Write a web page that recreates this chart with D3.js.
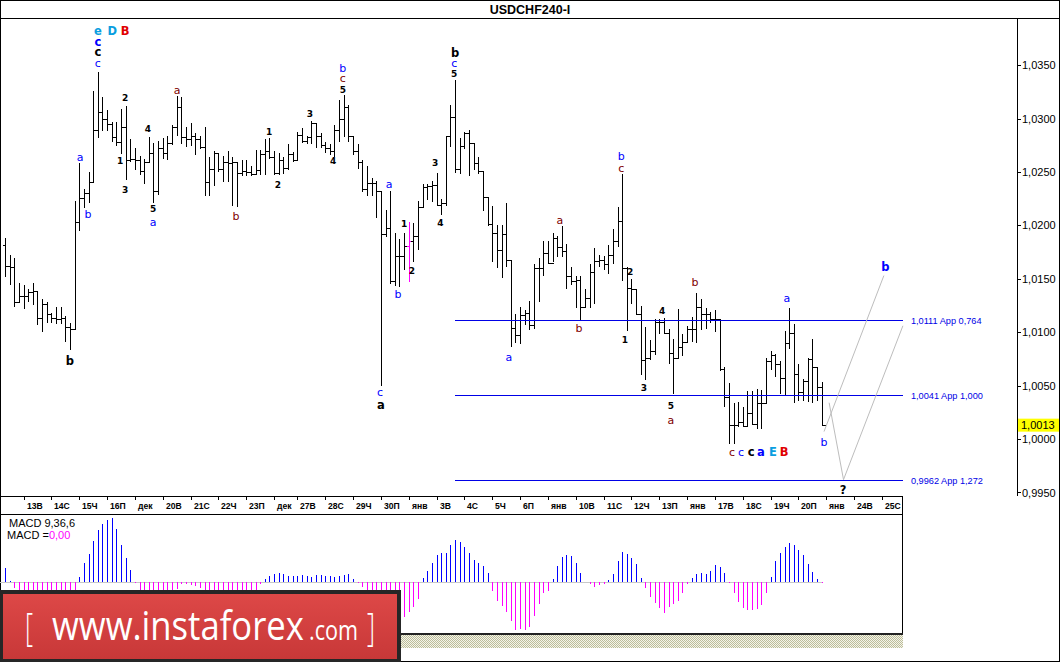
<!DOCTYPE html>
<html><head><meta charset="utf-8">
<script src="https://cdn.jsdelivr.net/npm/d3@7/dist/d3.min.js"></script>
<style>body{margin:0;background:#fff}svg{display:block}</style>
</head><body>
<svg id="c" width="1060" height="662" xmlns="http://www.w3.org/2000/svg"></svg>
<script>
// ---------- DATA ----------
const title = "USDCHF240-I";
const openP = [1.0182,1.0162,1.0161,1.0128,1.0134,1.0134,1.0138,1.0139,1.0113,1.0126,
1.0117,1.0113,1.0112,1.0113,1.0105,1.0103,1.0203,1.0226,1.0230,1.0241,
1.0289,1.0306,1.0300,1.0295,1.0283,1.0278,1.0292,1.0261,1.0262,1.0261,
1.0251,1.0259,1.0268,1.0232,1.0272,1.0268,1.0277,1.0292,1.0311,1.0283,
1.0281,1.0284,1.0281,1.0273,1.0241,1.0253,1.0268,1.0253,1.0259,1.0258,
1.0259,1.0249,1.0251,1.0250,1.0248,1.0252,1.0267,1.0270,1.0264,1.0249,
1.0261,1.0254,1.0267,1.0261,1.0285,1.0279,1.0283,1.0296,1.0284,1.0275,
1.0272,1.0270,1.0289,1.0300,1.0311,1.0284,1.0270,1.0259,1.0234,1.0240,
1.0240,1.0232,1.0192,1.0198,1.0148,1.0171,1.0171,1.0181,1.0185,1.0190,
1.0217,1.0236,1.0237,1.0238,1.0219,1.0221,1.0284,1.0301,1.0253,1.0274,
1.0286,1.0277,1.0258,1.0251,1.0227,1.0201,1.0193,1.0177,1.0192,1.0168,
1.0104,1.0097,1.0116,1.0118,1.0107,1.0160,1.0160,1.0174,1.0165,1.0188,
1.0180,1.0176,1.0153,1.0148,1.0149,1.0124,1.0132,1.0156,1.0167,1.0168,
1.0164,1.0172,1.0185,1.0204,1.0160,1.0141,1.0140,1.0117,1.0074,1.0076,
1.0082,1.0110,1.0110,1.0099,1.0081,1.0076,1.0086,1.0091,1.0103,1.0103,
1.0124,1.0117,1.0117,1.0112,1.0112,1.0066,1.0039,1.0013,1.0013,1.0016,
1.0012,1.0024,1.0014,1.0034,1.0034,1.0073,1.0079,1.0070,1.0057,1.0090,
1.0099,1.0061,1.0044,1.0054,1.0075,1.0067,1.0049];
const highP = [1.0188,1.0172,1.0169,1.0146,1.0144,1.0140,1.0146,1.0139,1.0131,1.0128,
1.0118,1.0124,1.0124,1.0115,1.0109,1.0223,1.0258,1.0234,1.0250,1.0326,
1.0344,1.0320,1.0308,1.0297,1.0297,1.0309,1.0312,1.0281,1.0272,1.0265,
1.0262,1.0283,1.0277,1.0279,1.0282,1.0284,1.0294,1.0321,1.0320,1.0292,
1.0296,1.0286,1.0284,1.0292,1.0264,1.0270,1.0268,1.0265,1.0270,1.0264,
1.0259,1.0261,1.0261,1.0256,1.0271,1.0271,1.0281,1.0282,1.0270,1.0268,
1.0264,1.0276,1.0269,1.0287,1.0291,1.0284,1.0298,1.0296,1.0286,1.0278,
1.0276,1.0294,1.0317,1.0322,1.0313,1.0284,1.0276,1.0261,1.0256,1.0244,
1.0242,1.0232,1.0214,1.0232,1.0193,1.0187,1.0193,1.0203,1.0202,1.0223,
1.0239,1.0239,1.0242,1.0249,1.0225,1.0284,1.0313,1.0336,1.0282,1.0287,
1.0289,1.0277,1.0264,1.0251,1.0227,1.0218,1.0200,1.0200,1.0221,1.0168,
1.0117,1.0124,1.0121,1.0129,1.0164,1.0169,1.0185,1.0185,1.0193,1.0190,
1.0199,1.0183,1.0161,1.0153,1.0153,1.0140,1.0164,1.0179,1.0172,1.0171,
1.0182,1.0197,1.0217,1.0248,1.0161,1.0150,1.0140,1.0125,1.0105,1.0093,
1.0112,1.0112,1.0113,1.0103,1.0094,1.0122,1.0098,1.0106,1.0114,1.0137,
1.0131,1.0123,1.0119,1.0121,1.0112,1.0067,1.0052,1.0034,1.0035,1.0030,
1.0045,1.0045,1.0047,1.0046,1.0076,1.0082,1.0080,1.0073,1.0101,1.0123,
1.0108,1.0070,1.0056,1.0076,1.0094,1.0067,1.0053];
const lowP = [1.0153,1.0145,1.0125,1.0128,1.0123,1.0129,1.0126,1.0108,1.0101,1.0110,
1.0110,1.0109,1.0109,1.0092,1.0084,1.0103,1.0196,1.0217,1.0222,1.0241,
1.0283,1.0289,1.0289,1.0279,1.0275,1.0268,1.0243,1.0260,1.0253,1.0248,
1.0240,1.0259,1.0222,1.0229,1.0263,1.0262,1.0276,1.0285,1.0277,1.0274,
1.0275,1.0267,1.0272,1.0228,1.0228,1.0238,1.0251,1.0242,1.0242,1.0219,
1.0218,1.0247,1.0247,1.0247,1.0248,1.0248,1.0248,1.0263,1.0248,1.0248,
1.0249,1.0253,1.0260,1.0261,1.0278,1.0277,1.0277,1.0273,1.0273,1.0269,
1.0267,1.0265,1.0279,1.0284,1.0279,1.0267,1.0254,1.0232,1.0228,1.0228,
1.0208,1.0051,1.0190,1.0146,1.0144,1.0143,1.0159,1.0148,1.0167,1.0178,
1.0217,1.0225,1.0223,1.0219,1.0211,1.0219,1.0274,1.0250,1.0249,1.0272,
1.0247,1.0253,1.0249,1.0214,1.0200,1.0167,1.0161,1.0152,1.0162,1.0087,
1.0091,1.0090,1.0108,1.0103,1.0104,1.0129,1.0154,1.0165,1.0167,1.0171,
1.0171,1.0141,1.0145,1.0124,1.0111,1.0124,1.0124,1.0127,1.0162,1.0159,
1.0155,1.0165,1.0181,1.0149,1.0102,1.0127,1.0117,1.0061,1.0056,1.0075,
1.0080,1.0099,1.0099,1.0071,1.0043,1.0076,1.0079,1.0091,1.0092,1.0091,
1.0103,1.0104,1.0110,1.0101,1.0065,1.0031,0.9996,0.9996,1.0012,1.0012,
1.0012,1.0014,1.0010,1.0010,1.0034,1.0066,1.0059,1.0043,1.0042,1.0085,
1.0035,1.0037,1.0037,1.0036,1.0035,1.0037,1.0013];
const closeP = [1.0162,1.0161,1.0128,1.0134,1.0134,1.0138,1.0139,1.0113,1.0126,1.0117,
1.0113,1.0112,1.0113,1.0105,1.0103,1.0203,1.0226,1.0230,1.0241,1.0289,
1.0306,1.0300,1.0295,1.0283,1.0278,1.0292,1.0261,1.0262,1.0261,1.0251,
1.0259,1.0268,1.0232,1.0272,1.0268,1.0277,1.0292,1.0311,1.0283,1.0281,
1.0284,1.0281,1.0273,1.0241,1.0253,1.0268,1.0253,1.0259,1.0258,1.0259,
1.0249,1.0251,1.0250,1.0248,1.0252,1.0267,1.0270,1.0264,1.0249,1.0261,
1.0254,1.0267,1.0261,1.0285,1.0279,1.0283,1.0296,1.0284,1.0275,1.0272,
1.0270,1.0289,1.0300,1.0311,1.0284,1.0270,1.0259,1.0234,1.0240,1.0240,
1.0232,1.0192,1.0198,1.0148,1.0171,1.0171,1.0181,1.0185,1.0190,1.0217,
1.0236,1.0237,1.0238,1.0219,1.0221,1.0284,1.0301,1.0253,1.0274,1.0286,
1.0277,1.0258,1.0251,1.0227,1.0201,1.0193,1.0177,1.0192,1.0168,1.0104,
1.0097,1.0116,1.0118,1.0107,1.0160,1.0160,1.0174,1.0165,1.0188,1.0180,
1.0176,1.0153,1.0148,1.0149,1.0124,1.0132,1.0156,1.0167,1.0168,1.0164,
1.0172,1.0185,1.0204,1.0160,1.0141,1.0140,1.0117,1.0074,1.0076,1.0082,
1.0110,1.0110,1.0099,1.0081,1.0076,1.0086,1.0091,1.0103,1.0103,1.0124,
1.0117,1.0117,1.0112,1.0112,1.0066,1.0039,1.0013,1.0013,1.0016,1.0012,
1.0024,1.0014,1.0034,1.0034,1.0073,1.0079,1.0070,1.0057,1.0090,1.0099,
1.0061,1.0044,1.0054,1.0075,1.0067,1.0049,1.0013];
const highlightBar = 87;
const macdHist = [0.00029,0.00003,-0.00012,-0.00018,-0.00024,-0.00028,-0.00030,-0.00034,-0.00036,-0.00038,
-0.00040,-0.00042,-0.00044,-0.00046,-0.00048,-0.00024,0.00011,0.00038,0.00056,0.00082,
0.00104,0.00116,0.00124,0.00128,0.00106,0.00075,0.00048,0.00025,-0.00001,-0.00024,
-0.00028,-0.00030,-0.00030,-0.00028,-0.00026,-0.00024,-0.00020,-0.00013,-0.00004,-0.00003,
-0.00006,-0.00008,-0.00011,-0.00020,-0.00024,-0.00026,-0.00026,-0.00026,-0.00026,-0.00028,
-0.00028,-0.00026,-0.00024,-0.00022,-0.00019,-0.00003,0.00006,0.00013,0.00016,0.00018,
0.00016,0.00013,0.00013,0.00013,0.00014,0.00013,0.00011,0.00014,0.00014,0.00013,
0.00013,0.00011,0.00013,0.00014,0.00016,0.00006,-0.00001,-0.00009,-0.00020,-0.00028,
-0.00036,-0.00056,-0.00066,-0.00080,-0.00082,-0.00078,-0.00070,-0.00060,-0.00050,-0.00034,
0.00009,0.00023,0.00039,0.00055,0.00058,0.00059,0.00075,0.00085,0.00080,0.00070,
0.00059,0.00045,0.00038,0.00033,0.00018,-0.00018,-0.00037,-0.00047,-0.00060,-0.00077,
-0.00095,-0.00094,-0.00096,-0.00089,-0.00067,-0.00044,-0.00021,-0.00018,0.00006,0.00032,
0.00050,0.00054,0.00052,0.00039,0.00019,0.00001,-0.00004,-0.00009,-0.00006,-0.00003,
0.00004,0.00017,0.00042,0.00061,0.00057,0.00048,0.00036,0.00009,-0.00012,-0.00030,
-0.00041,-0.00052,-0.00061,-0.00049,-0.00044,-0.00037,-0.00021,-0.00003,0.00009,0.00016,
0.00018,0.00016,0.00023,0.00034,0.00030,0.00019,-0.00001,-0.00021,-0.00039,-0.00051,
-0.00056,-0.00056,-0.00054,-0.00046,-0.00021,0.00011,0.00042,0.00058,0.00071,0.00079,
0.00075,0.00065,0.00054,0.00037,0.00021,0.00007,-0.00001];
const dayTickBars = [4,10,16,22,28,34,40,46,52,58,63,69,75,81,87,93,99,105,111,117,123,129,135,141,147,153,159,165,171,177,183,189];
const dayTickLabels = ["13В","14С","15Ч","16П","дек","20В","21С","22Ч","23П","дек","27В","28С","29Ч","30П","янв","3В","4С","5Ч","6П","янв","10В","11С","12Ч","13П","янв","17В","18С","19Ч","20П","янв","24В","25С"];
const priceTicks = [0.9950,1.0000,1.0050,1.0100,1.0150,1.0200,1.0250,1.0300,1.0350];
const levelPrices = [1.0111,1.0041,0.9962];
const levelLabels = ["1,0111 App 0,764","1,0041 App 1,000","0,9962 App 1,272"];
const levelSpan = [97,193.5];
const lastPrice = 1.0013;
const macdTitle = "MACD 9,36,6";
const macdValueText = "0,00";
// wave labels: bar index, price, text, colour key, style (l=letter, d=digit, b=bold)
const waveLabels = [
 [20.0,1.0382,"e","cy","b"],[23.1,1.0382,"D","cy","b"],[25.9,1.0382,"B","rd","b"],
 [20.0,1.0372,"c","bl","b"],[20.0,1.0362,"c","k","b"],[20.0,1.0352,"c","bl","l"],
 [16.2,1.0264,"a","bl","l"],[17.9,1.0211,"b","bl","l"],
 [25.9,1.0320,"2","k","d"],[24.8,1.0261,"1","k","d"],[25.9,1.0234,"3","k","d"],
 [30.8,1.0291,"4","k","d"],[31.9,1.0216,"5","k","d"],[31.9,1.0203,"a","bl","l"],
 [37.1,1.0327,"a","mr","l"],[49.8,1.0209,"b","mr","l"],
 [56.9,1.0288,"1","k","d"],[58.8,1.0239,"2","k","d"],[65.7,1.0305,"3","k","d"],
 [70.7,1.0261,"4","k","d"],[72.8,1.0328,"5","k","d"],[72.8,1.0338,"c","mr","l"],[72.8,1.0347,"b","bl","l"],
 [14.0,1.0073,"b","k","b"],
 [82.8,1.0239,"a","bl","l"],[84.7,1.0136,"b","bl","l"],[86.0,1.0202,"1","k","d"],[87.7,1.0158,"2","k","d"],
 [80.8,1.0044,"c","bl","l"],[81.0,1.0032,"a","k","b"],
 [97.0,1.0361,"b","k","b"],[96.8,1.0352,"c","bl","l"],[96.8,1.0343,"5","k","d"],
 [92.7,1.0259,"3","k","d"],[93.8,1.0203,"4","k","d"],
 [108.6,1.0077,"a","bl","l"],[119.6,1.0205,"a","mr","l"],[123.7,1.0104,"b","mr","l"],
 [132.8,1.0265,"b","bl","l"],[132.8,1.0254,"c","mr","l"],
 [134.7,1.0157,"2","k","d"],[133.6,1.0094,"1","k","d"],[141.6,1.0121,"4","k","d"],
 [137.7,1.0049,"3","k","d"],[143.5,1.0032,"5","k","d"],[143.5,1.0018,"a","mr","l"],
 [148.7,1.0147,"b","mr","l"],[168.5,1.0132,"a","bl","l"],
 [156.7,0.9988,"c","mr","l"],[158.6,0.9988,"c","bl","l"],[160.8,0.9988,"c","k","b"],
 [162.9,0.9988,"a","bl","b"],[165.5,0.9988,"E","cy","b"],[167.9,0.9988,"B","rd","b"],
 [176.5,0.9997,"b","bl","l"],[189.7,1.0161,"b","bl","b"],[180.6,0.9952,"?","k","b"]
];
const projectionA = [[176.5,1.0007],[189.4,1.0153]];
const projectionB = [[177.6,1.0034],[180.7,0.9962],[193.5,1.0106]];

// ---------- LAYOUT ----------
const W = 1060, H = 662;
const svg = d3.select("#c");
const colors = {bl:"#0000ff", mr:"#800000", k:"#000000", cy:"#0a9ee0", rd:"#e00000"};
const plot = {left:1, right:1017, top:18, bottom:496};
const x = d3.scaleLinear().domain([0,176]).range([5,821.7]);
const y = d3.scaleLinear().domain([0.99467,1.03941]).range([plot.bottom, plot.top]);
const my = d3.scaleLinear().domain([-0.00104,0.00136]).range([634,514]);
const cx = v => Math.round(x(v)) + 0.5;
const cy = v => Math.round(y(v)) + 0.5;

svg.append("rect").attr("width",W).attr("height",H).attr("fill","#fff");

// patterns / gradients / clip
const defs = svg.append("defs");
const pat = defs.append("pattern").attr("id","hatch").attr("width",2).attr("height",2).attr("patternUnits","userSpaceOnUse");
pat.append("rect").attr("width",2).attr("height",2).attr("fill","#f4f4ea");
pat.append("rect").attr("width",1).attr("height",1).attr("fill","#bdbd9a");
pat.append("rect").attr("x",1).attr("y",1).attr("width",1).attr("height",1).attr("fill","#bdbd9a");
const grad = defs.append("linearGradient").attr("id","logoG").attr("x1",0).attr("y1",0).attr("x2",0).attr("y2",1);
grad.append("stop").attr("offset","0").attr("stop-color","#dd4847");
grad.append("stop").attr("offset","1").attr("stop-color","#c83838");
defs.append("clipPath").attr("id","pclip").append("rect")
  .attr("x",plot.left).attr("y",plot.top).attr("width",plot.right-plot.left).attr("height",plot.bottom-plot.top);

// ---------- PRICE BARS ----------
const g = svg.append("g").attr("clip-path","url(#pclip)").attr("shape-rendering","crispEdges");
const idx = d3.range(closeP.length);
const bars = g.selectAll("g.bar").data(idx).join("g").attr("class","bar")
  .attr("stroke", i => i === highlightBar ? "#ff00ff" : "#000").attr("stroke-width",1);
bars.append("line").attr("x1",i=>cx(i)).attr("x2",i=>cx(i)).attr("y1",i=>cy(highP[i])-0.5).attr("y2",i=>cy(lowP[i])+0.5);
bars.append("line").attr("x1",i=>cx(i)-3).attr("x2",i=>cx(i)).attr("y1",i=>cy(openP[i])).attr("y2",i=>cy(openP[i]));
bars.append("line").attr("x1",i=>cx(i)).attr("x2",i=>cx(i)+3).attr("y1",i=>cy(closeP[i])).attr("y2",i=>cy(closeP[i]));

// ---------- LEVELS ----------
const lv = svg.append("g").attr("shape-rendering","crispEdges");
levelPrices.forEach((p,k)=>{
  lv.append("line").attr("x1",x(levelSpan[0])).attr("x2",x(levelSpan[1])).attr("y1",cy(p)).attr("y2",cy(p))
    .attr("stroke","#0000e6").attr("stroke-width",1);
  svg.append("text").attr("x",x(levelSpan[1])+8).attr("y",cy(p)+3.5).text(levelLabels[k])
    .attr("font-family","Liberation Sans, Arial, sans-serif").attr("font-size",9.2).attr("fill","#0000e6");
});

// ---------- PROJECTIONS ----------
const ln = d3.line().x(d=>x(d[0])).y(d=>y(d[1]));
[projectionA, projectionB].forEach(pts=>{
  svg.append("path").attr("d",ln(pts)).attr("fill","none").attr("stroke","#bdbdbd").attr("stroke-width",1);
});

// ---------- WAVE LABELS ----------
const styles = {
  l:{size:11,weight:"normal"},
  d:{size:9,weight:"bold"},
  b:{size:11.5,weight:"bold"}
};
svg.append("text").attr("font-family","DejaVu Sans, Verdana, sans-serif").attr("text-anchor","middle")
  .selectAll("tspan").data(waveLabels).join("tspan")
  .attr("x",d=>x(d[0])).attr("y",d=>y(d[1])+4)
  .attr("font-size",d=>styles[d[4]].size)
  .attr("font-weight",d=>styles[d[4]].weight)
  .attr("fill",d=>colors[d[3]]).text(d=>d[2]);

// ---------- FRAMES ----------
const fr = svg.append("g").attr("shape-rendering","crispEdges").attr("stroke","#000").attr("fill","none");
fr.append("rect").attr("x",0.5).attr("y",0.5).attr("width",W-1).attr("height",H-1);
fr.append("line").attr("x1",0).attr("x2",W).attr("y1",18.5).attr("y2",18.5);
fr.append("line").attr("x1",1017.5).attr("x2",1017.5).attr("y1",18).attr("y2",496);
fr.append("line").attr("x1",0).attr("x2",903).attr("y1",496.5).attr("y2",496.5);
fr.append("line").attr("x1",0).attr("x2",903).attr("y1",514.5).attr("y2",514.5);
fr.append("line").attr("x1",902.5).attr("x2",902.5).attr("y1",496).attr("y2",636);

svg.append("text").attr("x",530).attr("y",14).attr("text-anchor","middle")
  .attr("font-family","Liberation Sans, Arial, sans-serif").attr("font-weight","bold").attr("font-size",12.5)
  .text(title);

// ---------- PRICE AXIS ----------
const fmt = v => d3.format(".4f")(v).replace(".",",");
const ay = svg.append("g").attr("transform","translate(1017,0)")
  .call(d3.axisRight(y).tickValues(priceTicks).tickFormat(fmt).tickSize(4).tickPadding(1));
ay.select(".domain").remove();
ay.selectAll("line").attr("shape-rendering","crispEdges").attr("stroke","#000");
ay.selectAll("text").attr("font-family","Liberation Sans, Arial, sans-serif").attr("font-size",11).attr("fill","#000");

// current price tag
svg.append("rect").attr("x",1018).attr("y",y(lastPrice)-6.5).attr("width",41).attr("height",13).attr("fill","#ffff00");
svg.append("text").attr("x",1021).attr("y",y(lastPrice)+4).text(fmt(lastPrice))
  .attr("font-family","Liberation Sans, Arial, sans-serif").attr("font-size",11).attr("fill","#000");

// ---------- TIME AXIS ----------
const ta = svg.append("g");
dayTickBars.forEach((b,k)=>{
  const tx = Math.round(x(b))+0.5;
  ta.append("line").attr("x1",tx).attr("x2",tx).attr("y1",496).attr("y2",500).attr("stroke","#000").attr("shape-rendering","crispEdges");
  ta.append("text").attr("x",tx+2.5).attr("y",509).text(dayTickLabels[k])
    .attr("font-family","Liberation Sans, Arial, sans-serif").attr("font-weight","bold")
    .attr("font-size",8.6).attr("fill","#000");
});

// ---------- MACD ----------
const mg = svg.append("g").attr("shape-rendering","crispEdges");
mg.append("line").attr("x1",0).attr("x2",cx(closeP.length-1)).attr("y1",Math.round(my(0))+0.5).attr("y2",Math.round(my(0))+0.5)
  .attr("stroke","#c8c8c8");
mg.selectAll("line.h").data(macdHist).join("line").attr("class","h")
  .attr("x1",(d,i)=>cx(i)).attr("x2",(d,i)=>cx(i))
  .attr("y1",Math.round(my(0))).attr("y2",d=>Math.round(my(d)))
  .attr("stroke",d=>d>=0?"#0000ff":"#ff00ff");
const mt = svg.append("text").attr("font-family","Liberation Sans, Arial, sans-serif").attr("font-size",11);
mt.append("tspan").attr("x",9).attr("y",527).text(macdTitle);
const mt2 = svg.append("text").attr("font-family","Liberation Sans, Arial, sans-serif").attr("font-size",11).attr("x",7).attr("y",539);
mt2.append("tspan").text("MACD =");
mt2.append("tspan").attr("fill","#ff00ff").text(macdValueText);

// bottom of MACD panel + hatched strip
svg.append("rect").attr("x",0).attr("y",633).attr("width",903).attr("height",2).attr("fill","#222");
svg.append("rect").attr("x",0).attr("y",635).attr("width",903).attr("height",13).attr("fill","url(#hatch)");

// ---------- LOGO ----------
svg.append("rect").attr("x",0).attr("y",590).attr("width",401).attr("height",72).attr("fill","#262626");
svg.append("rect").attr("x",3).attr("y",594).attr("width",394).attr("height",65).attr("fill","url(#logoG)");
const lf = "Open Sans, Liberation Sans, sans-serif";
// each piece is horizontally scaled so its real box fits the target width
function logoText(str, x0, base, size, weight, targetW){
  const t = svg.append("text").attr("font-family",lf).attr("font-size",size).attr("font-weight",weight)
    .attr("fill","#fff").text(str);
  const nat = t.node().getComputedTextLength();
  const s = targetW / nat;
  t.attr("transform",`translate(${x0},${base}) scale(${s},1)`);
}
logoText("[", 25, 641, 38, 300, 8);
logoText("www.instaforex", 52, 640, 40, 400, 252);
logoText(".com", 309, 640, 28, 400, 49);
logoText("]", 367, 641, 38, 300, 8);
</script>
</body></html>
